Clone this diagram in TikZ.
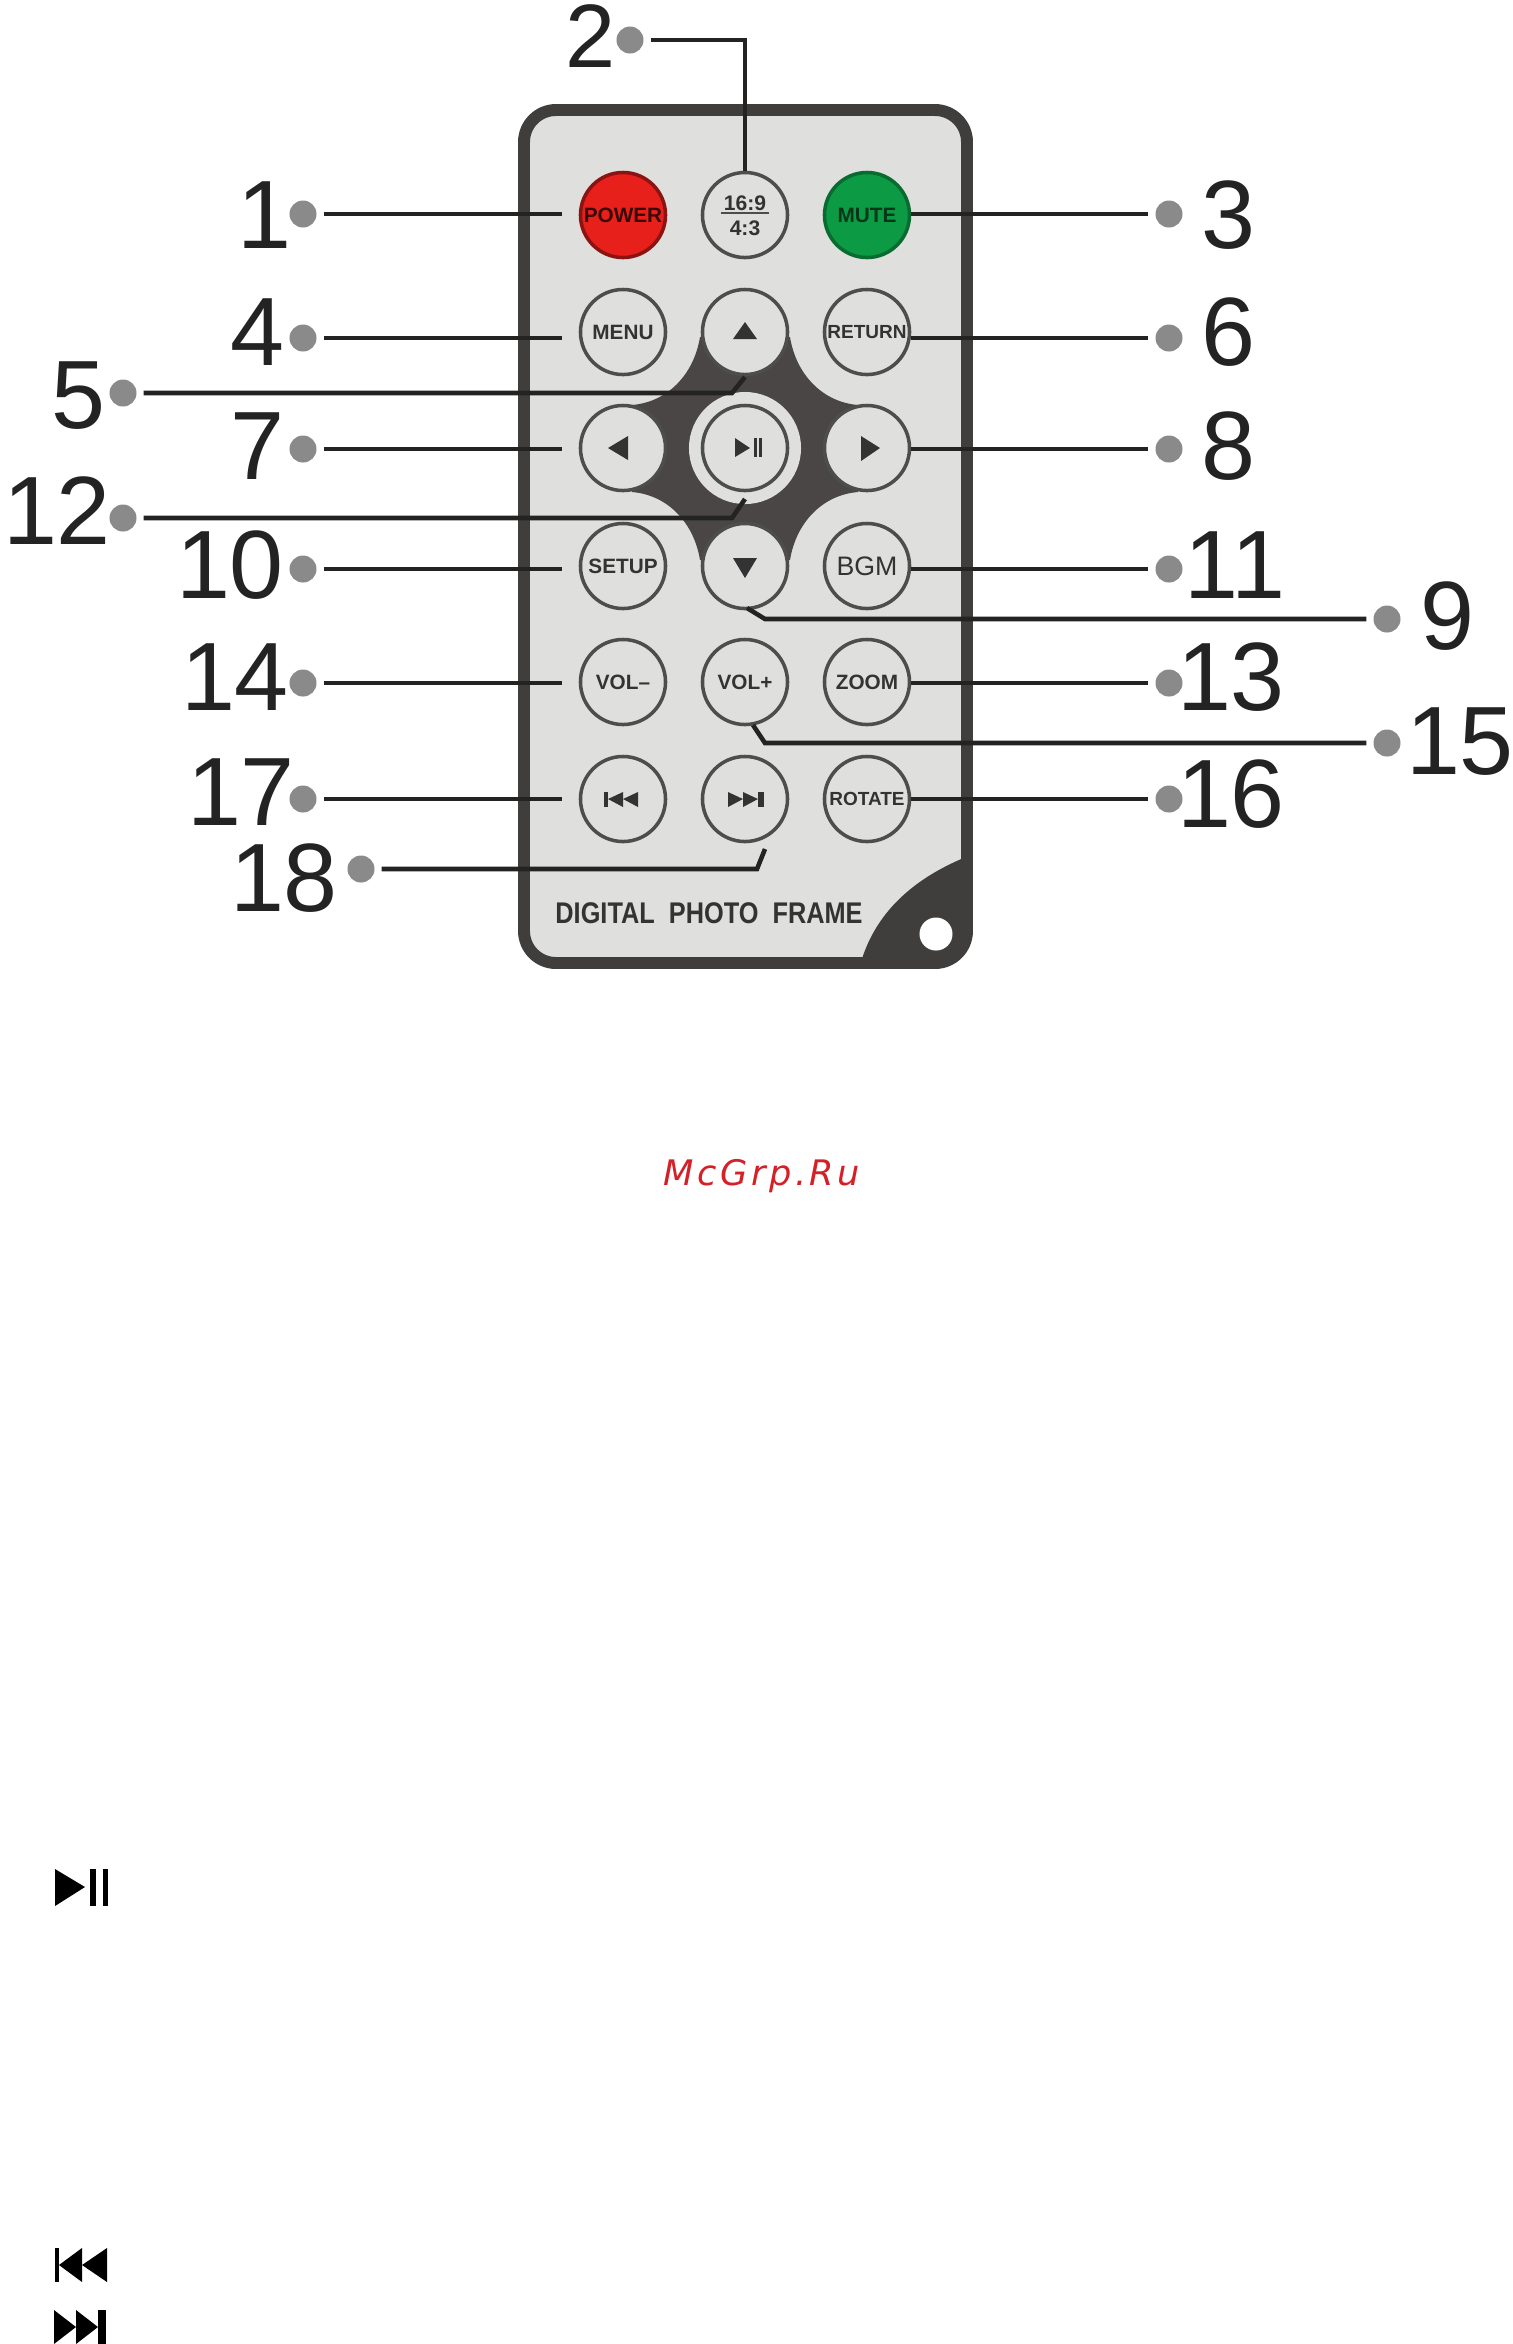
\documentclass[tikz,border=0pt]{standalone}
\usepackage{fontspec}
\setmainfont{Liberation Sans}
\newfontfamily\markfont[LetterSpace=10]{DejaVu Sans}
\definecolor{bodygray}{HTML}{DFDFDD}
\definecolor{edgegray}{HTML}{3F3E3D}
\definecolor{padgray}{HTML}{4A4646}
\definecolor{ringgray}{HTML}{4D4D4D}
\definecolor{dotgray}{HTML}{8A8A8A}
\definecolor{wirecol}{HTML}{232323}
\definecolor{inkcol}{HTML}{333333}
\definecolor{powerred}{HTML}{E8201C}
\definecolor{mutegreen}{HTML}{0C9A45}
\definecolor{markred}{HTML}{D42027}
\tikzset{
    btn/.style={circle, draw=ringgray, fill=bodygray, line width=1pt, minimum size=0.85cm, inner sep=0pt, text=inkcol, font=\fontsize{5.9}{6}\selectfont\bfseries},
    numlabel/.style={font=\fontsize{27.6}{29}\selectfont, text=wirecol, inner sep=0pt},
    dot/.style={circle, fill=dotgray, minimum size=0.27cm, inner sep=0pt},
    wire/.style={draw=wirecol, line width=1.3pt},
    icon/.style={fill=inkcol}
}
\begin{document}
\begin{tikzpicture}[x=0.01cm, y=-0.01cm]
            \useasboundingbox (0,0) rectangle (1513,2344);

            % Gehaeuse
            \path[fill=bodygray] (524,110) [rounded corners=0.32cm] -- (967,110) -- (967,963) -- (524,963) -- cycle;
            \fill[edgegray] (966,857) .. controls (910,880) and (875,915) .. (861,962) -- (945,962) -- (966,940) -- cycle; % Ecke unten rechts
            \draw[edgegray, line width=3.4pt, rounded corners=0.32cm] (524,110) -- (967,110) -- (967,963) -- (524,963) -- cycle;
            \node[circle, fill=white, minimum size=0.33cm, inner sep=0pt] (hole) at (936,934) {};
            \node[font=\fontsize{7.2}{8}\selectfont\bfseries, text=inkcol, inner sep=0pt] (brand) at (709,913) {\scalebox{1}[1.18]{DIGITAL\ \ PHOTO\ \ FRAME}};

            % Steuerkreuz
            \fill[padgray] (700,337) .. controls (694,374) and (668,402) .. (632,405) -- (632,492) .. controls (668,495) and (694,523) .. (700,560) -- (790,560) .. controls (796,523) and (822,495) .. (858,492) -- (858,405) .. controls (822,402) and (796,374) .. (790,337) -- cycle;
            \node[circle, fill=bodygray, minimum size=1.12cm, inner sep=0pt] (playring) at (745,448) {};

            % Tasten
            \node[btn, fill=powerred, draw=powerred!60!black, text=powerred!25!black] (btnpower) at (623,215) {POWER};
            \node[btn] (btnratio) at (745,215) {};
            \node[btn, fill=mutegreen, draw=mutegreen!70!black, text=mutegreen!35!black] (btnmute) at (867,215) {MUTE};
            \node[btn] (btnmenu) at (623,332) {MENU};
            \node[btn] (btnup) at (745,332) {};
            \node[btn, font=\fontsize{5.4}{6}\selectfont\bfseries] (btnreturn) at (867,332) {RETURN};
            \node[btn] (btnleft) at (623,448) {};
            \node[btn] (btnplay) at (745,448) {};
            \node[btn] (btnright) at (867,448) {};
            \node[btn] (btnsetup) at (623,566) {SETUP};
            \node[btn] (btndown) at (745,566) {};
            \node[btn, font=\fontsize{7.6}{8}\selectfont] (btnbgm) at (867,566) {BGM};
            \node[btn] (btnvoldown) at (623,682) {VOL--};
            \node[btn] (btnvolup) at (745,682) {VOL+};
            \node[btn] (btnzoom) at (867,682) {ZOOM};
            \node[btn] (btnprev) at (623,799) {};
            \node[btn] (btnnext) at (745,799) {};
            \node[btn, font=\fontsize{5.4}{6}\selectfont\bfseries] (btnrotate) at (867,799) {ROTATE};

            % Beschriftung 16:9 / 4:3
            \node[font=\fontsize{6}{6}\selectfont\bfseries, text=inkcol, inner sep=0.5pt] (ratiotop) at (745,203) {16:9};
            \node[font=\fontsize{6}{6}\selectfont\bfseries, text=inkcol, inner sep=0.5pt] (ratiobot) at (745,228) {4:3};
            \draw[ringgray, line width=0.6pt] (ratiotop.south west) -- (ratiotop.south east);

            % Symbole auf den Tasten
            \fill[icon] (745,322) -- (733,339) -- (757,339) -- cycle;
            \fill[icon] (745,578) -- (733,558) -- (757,558) -- cycle;
            \fill[icon] (608,448) -- (628,436) -- (628,460) -- cycle;
            \fill[icon] (880,448) -- (861,436) -- (861,461) -- cycle;
            \fill[icon] (735,438) -- (750,448) -- (735,457) -- cycle;
            \fill[icon] (754,438) rectangle (757,457);
            \fill[icon] (759,438) rectangle (762,457);
            \fill[icon] (604,792) rectangle (608,807);
            \fill[icon] (608,799) -- (623,792) -- (623,807) -- cycle;
            \fill[icon] (623,799) -- (638,792) -- (638,807) -- cycle;
            \fill[icon] (728,792) -- (743,799) -- (728,807) -- cycle;
            \fill[icon] (743,792) -- (758,799) -- (743,807) -- cycle;
            \fill[icon] (758,792) rectangle (764,807);

            % Punkte
            \node[dot] (dotone) at (303,214) {};
            \node[dot] (dottwo) at (630,40) {};
            \node[dot] (dotthree) at (1169,214) {};
            \node[dot] (dotfour) at (303,338) {};
            \node[dot] (dotfive) at (123,393) {};
            \node[dot] (dotsix) at (1169,338) {};
            \node[dot] (dotseven) at (303,449) {};
            \node[dot] (doteight) at (1169,449) {};
            \node[dot] (dotnine) at (1387,619) {};
            \node[dot] (dotten) at (303,569) {};
            \node[dot] (doteleven) at (1169,569) {};
            \node[dot] (dottwelve) at (123,518) {};
            \node[dot] (dotthirteen) at (1169,683) {};
            \node[dot] (dotfourteen) at (303,683) {};
            \node[dot] (dotfifteen) at (1387,743) {};
            \node[dot] (dotsixteen) at (1169,799) {};
            \node[dot] (dotseventeen) at (303,799) {};
            \node[dot] (doteighteen) at (361,869) {};

            % Zahlen
            \node[numlabel] (numone) at (264,215) {1};
            \node[numlabel, font=\fontsize{25.6}{27}\selectfont] (numtwo) at (591,36) {2}; % oben knapp am Rand
            \node[numlabel] (numthree) at (1228,215) {3};
            \node[numlabel] (numfour) at (257,332) {4};
            \node[numlabel] (numfive) at (78,396) {5};
            \node[numlabel] (numsix) at (1228,332) {6};
            \node[numlabel] (numseven) at (257,446) {7};
            \node[numlabel] (numeight) at (1228,446) {8};
            \node[numlabel] (numnine) at (1447,616) {9};
            \node[numlabel] (numten) at (230,565) {10};
            \node[numlabel] (numeleven) at (1235,565) {11};
            \node[numlabel] (numtwelve) at (57,511) {12};
            \node[numlabel] (numthirteen) at (1231,677) {13};
            \node[numlabel] (numfourteen) at (235,677) {14};
            \node[numlabel] (numfifteen) at (1460,742) {15};
            \node[numlabel] (numsixteen) at (1231,794) {16};
            \node[numlabel] (numseventeen) at (241,792) {17};
            \node[numlabel] (numeighteen) at (284,878) {18};

            % Verbindungen
            \coordinate (bendtwo) at (745,40);
            \coordinate (tipfive) at (745,377);
            \coordinate (bendfive) at (732,393);
            \coordinate (tiptwelve) at (745,499);
            \coordinate (bendtwelve) at (732,518);
            \coordinate (tipnine) at (747,608);
            \coordinate (bendnine) at (765,619);
            \coordinate (tipfifteen) at (753,725);
            \coordinate (bendfifteen) at (765,743);
            \coordinate (tipeighteen) at (765,849);
            \coordinate (bendeighteen) at (757,869);

            \draw[wire, shorten <=0.065cm, shorten >=0.17cm] (dotone) -- (dotone -| btnpower.west);
            \draw[wire, shorten <=0.065cm] (dottwo) -- (bendtwo) -- (btnratio.north);
            \draw[wire, shorten >=0.065cm] (btnmute.east |- dotthree) -- (dotthree);
            \draw[wire, shorten <=0.065cm, shorten >=0.17cm] (dotfour) -- (dotfour -| btnmenu.west);
            \draw[wire, shorten <=0.065cm] (dotfive) -- (bendfive) -- (tipfive);
            \draw[wire, shorten >=0.065cm] (btnreturn.east |- dotsix) -- (dotsix);
            \draw[wire, shorten <=0.065cm, shorten >=0.17cm] (dotseven) -- (dotseven -| btnleft.west);
            \draw[wire, shorten >=0.065cm] (btnright.east |- doteight) -- (doteight);
            \draw[wire, shorten <=0.065cm] (dotnine) -- (bendnine) -- (tipnine);
            \draw[wire, shorten <=0.065cm, shorten >=0.17cm] (dotten) -- (dotten -| btnsetup.west);
            \draw[wire, shorten >=0.065cm] (btnbgm.east |- doteleven) -- (doteleven);
            \draw[wire, shorten <=0.065cm] (dottwelve) -- (bendtwelve) -- (tiptwelve);
            \draw[wire, shorten >=0.065cm] (btnzoom.east |- dotthirteen) -- (dotthirteen);
            \draw[wire, shorten <=0.065cm, shorten >=0.17cm] (dotfourteen) -- (dotfourteen -| btnvoldown.west);
            \draw[wire, shorten <=0.065cm] (dotfifteen) -- (bendfifteen) -- (tipfifteen);
            \draw[wire, shorten >=0.065cm] (btnrotate.east |- dotsixteen) -- (dotsixteen);
            \draw[wire, shorten <=0.065cm, shorten >=0.17cm] (dotseventeen) -- (dotseventeen -| btnprev.west);
            \draw[wire, shorten <=0.065cm] (doteighteen) -- (bendeighteen) -- (tipeighteen);

            % Wasserzeichen
            \node[font=\fontsize{10}{12}\selectfont\markfont\itshape, text=markred, inner sep=0pt] (watermark) at (762,1176) {McGrp.Ru};

            % Symbole unten links
            \fill[black] (55,1869) -- (85,1887) -- (55,1906) -- cycle;
            \fill[black] (90,1869) rectangle (96,1906);
            \fill[black] (103,1869) rectangle (108,1906);
            \fill[black] (55,2248) rectangle (59,2282);
            \fill[black] (59,2265) -- (82,2248) -- (82,2282) -- cycle;
            \fill[black] (82,2265) -- (107,2248) -- (107,2282) -- cycle;
            \fill[black] (54,2310) -- (76,2327) -- (54,2344) -- cycle;
            \fill[black] (76,2310) -- (98,2327) -- (76,2344) -- cycle;
            \fill[black] (98,2310) rectangle (106,2344);
\end{tikzpicture}
\end{document}
